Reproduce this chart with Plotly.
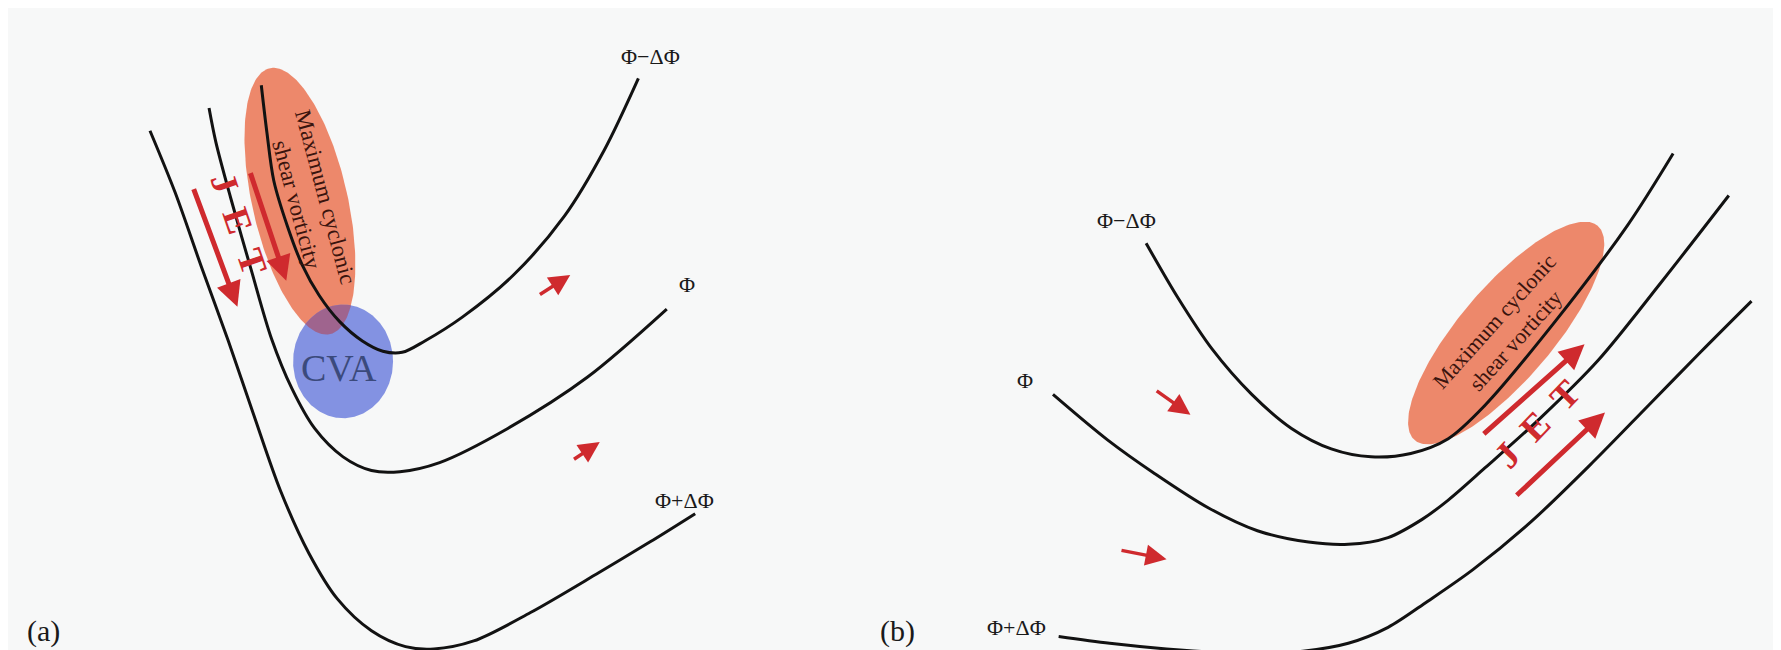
import numpy as np
import plotly.graph_objects as go

# Drawing units follow the reference picture (1568 x 572, y grows downward)
X_RANGE = [0, 1568]
Y_RANGE = [572, 0]

# ---------------- Panel (a): contours ----------------
a_minus_x = [223, 228, 234, 246, 259, 274, 292, 312, 330, 347, 367, 400, 445, 490, 525, 555]
a_minus_y = [68, 110, 152, 192, 226, 253, 276, 293, 302, 303, 293, 272, 235, 183, 125, 62]
a_mid_x = [177, 183, 196, 214, 232, 250, 270, 295, 320, 345, 380, 440, 510, 580]
a_mid_y = [88, 118, 167, 230, 291, 335, 370, 395, 407, 408, 400, 370, 325, 265]
a_plus_x = [125, 147, 170, 194, 216, 240, 265, 290, 320, 350, 375, 410, 460, 520, 565, 605]
a_plus_y = [108, 162, 227, 293, 357, 425, 480, 520, 548, 562, 564, 557, 532, 497, 470, 445]

# ---------------- Panel (b): contours ----------------
b_minus_x = [1002, 1030, 1060, 1095, 1130, 1165, 1200, 1235, 1268, 1300, 1362, 1426, 1466]
b_minus_y = [207, 255, 300, 340, 370, 388, 395, 392, 379, 350, 276, 191, 128]
b_mid_x = [920, 968, 1010, 1057, 1100, 1145, 1180, 1215, 1245, 1268, 1300, 1350, 1400, 1455, 1515]
b_mid_y = [340, 380, 410, 440, 460, 470, 472, 466, 450, 433, 405, 360, 310, 242, 165]
b_plus_x = [925, 970, 1020, 1065, 1100, 1140, 1180, 1215, 1250, 1290, 1341, 1395, 1444, 1490, 1535]
b_plus_y = [553, 559, 564, 567, 568, 566, 559, 545, 522, 494, 452, 400, 350, 303, 258]

contour_labels = ["\u03a6\u2212\u0394\u03a6", "\u03a6", "\u03a6+\u0394\u03a6",
                  "\u03a6\u2212\u0394\u03a6", "\u03a6", "\u03a6+\u0394\u03a6"]
label_x = [566, 598, 596, 985, 895, 888]
label_y = [43, 243, 433, 187, 328, 545]

# Shaded regions: centre x, centre y, semi-axis 1, semi-axis 2, angle (deg)
vort_cx = [257, 1319]
vort_cy = [170, 286]
vort_a = [120, 124]
vort_b = [42, 41]
vort_ang = [77.2, -49.5]
vort_text_x = [267, 1318]
vort_text_y = [170, 284]
vort_text_ang = [75, -48]
vort_text_size = [23, 22]
vort_text = "Maximum cyclonic<br>shear vorticity"

cva_cx, cva_cy, cva_rx, cva_ry = 295, 311, 44, 50

# JET arrows (tail -> tip)
jet_tail_x = [163, 213, 1298, 1327]
jet_tail_y = [158, 144, 376, 430]
jet_tip_x = [202, 245, 1388, 1406]
jet_tip_y = [263, 240, 296, 356]
jet_text_x = [203, 1347]
jet_text_y = [190, 366]
jet_text_ang = [71, -46]

# Small flow arrows (tail -> tip)
flow_tail_x = [467, 497, 1010, 979]
flow_tail_y = [253, 398, 336, 477]
flow_tip_x = [495, 521, 1041, 1020]
flow_tip_y = [235, 382, 358, 485]

panel_labels = ["(a)", "(b)"]
panel_x = [31, 783]
panel_y = [548, 548]

SERIF = "Liberation Serif, DejaVu Serif, serif"
RED = "#cf2a2e"


def ellipse_pts(cx, cy, a, b, ang_deg, n=240):
    t = np.linspace(0, 2 * np.pi, n)
    th = np.radians(ang_deg)
    x = cx + a * np.cos(t) * np.cos(th) - b * np.sin(t) * np.sin(th)
    y = cy + a * np.cos(t) * np.sin(th) + b * np.sin(t) * np.cos(th)
    return x, y


def inside(x, y, cx, cy, a, b, ang_deg):
    th = np.radians(ang_deg)
    dx, dy = x - cx, y - cy
    u = dx * np.cos(th) + dy * np.sin(th)
    v = -dx * np.sin(th) + dy * np.cos(th)
    return (u / a) ** 2 + (v / b) ** 2 <= 1.0


fig = go.Figure()

# vorticity ellipses
for i in range(2):
    ex, ey = ellipse_pts(vort_cx[i], vort_cy[i], vort_a[i], vort_b[i], vort_ang[i])
    fig.add_trace(go.Scatter(x=ex, y=ey, mode="lines", fill="toself",
                             fillcolor="rgba(236,126,94,0.92)", line=dict(width=0),
                             hoverinfo="skip", showlegend=False))

# CVA circle
cx_, cy_ = ellipse_pts(cva_cx, cva_cy, cva_rx, cva_ry, 0)
fig.add_trace(go.Scatter(x=cx_, y=cy_, mode="lines", fill="toself",
                         fillcolor="rgba(122,138,224,0.93)", line=dict(width=0),
                         hoverinfo="skip", showlegend=False))

# overlap region (ellipse a  ∩ circle)
ex, ey = ellipse_pts(vort_cx[0], vort_cy[0], vort_a[0], vort_b[0], vort_ang[0], 720)
cx2, cy2 = ellipse_pts(cva_cx, cva_cy, cva_rx, cva_ry, 0, 720)
m1 = inside(ex, ey, cva_cx, cva_cy, cva_rx, cva_ry, 0)
m2 = inside(cx2, cy2, vort_cx[0], vort_cy[0], vort_a[0], vort_b[0], vort_ang[0])
px = np.concatenate([ex[m1], cx2[m2]])
py = np.concatenate([ey[m1], cy2[m2]])
if len(px) > 2:
    order = np.argsort(np.arctan2(py - py.mean(), px - px.mean()))
    px, py = px[order], py[order]
    fig.add_trace(go.Scatter(x=np.append(px, px[0]), y=np.append(py, py[0]), mode="lines",
                             fill="toself", fillcolor="rgba(160,98,138,0.95)",
                             line=dict(width=0), hoverinfo="skip", showlegend=False))

# contour lines
for xs, ys in [(a_minus_x, a_minus_y), (a_mid_x, a_mid_y), (a_plus_x, a_plus_y),
               (b_minus_x, b_minus_y), (b_mid_x, b_mid_y), (b_plus_x, b_plus_y)]:
    fig.add_trace(go.Scatter(x=xs, y=ys, mode="lines",
                             line=dict(color="#121212", width=3.0, shape="spline", smoothing=0.9),
                             hoverinfo="skip", showlegend=False))

ann = []
for t, x, y in zip(contour_labels, label_x, label_y):
    ann.append(dict(x=x, y=y, text=t, showarrow=False,
                    font=dict(family=SERIF, size=22, color="#1a1a1a")))

for i in range(2):
    ann.append(dict(x=vort_text_x[i], y=vort_text_y[i], text=vort_text, showarrow=False,
                    textangle=vort_text_ang[i],
                    font=dict(family=SERIF, size=vort_text_size[i], color="#3a140e")))

ann.append(dict(x=291, y=317, text="CVA", showarrow=False,
                font=dict(family=SERIF, size=38, color="#3b4a7c")))

for i in range(2):
    ann.append(dict(x=jet_text_x[i], y=jet_text_y[i], text="<b>J\u2002E\u2002T</b>",
                    showarrow=False, textangle=jet_text_ang[i],
                    font=dict(family=SERIF, size=37, color=RED)))

for i in range(4):
    ann.append(dict(x=jet_tip_x[i], y=jet_tip_y[i], ax=jet_tail_x[i], ay=jet_tail_y[i],
                    xref="x", yref="y", axref="x", ayref="y", text="", showarrow=True,
                    arrowhead=2, arrowsize=1.0, arrowwidth=5, arrowcolor=RED))

for i in range(4):
    ann.append(dict(x=flow_tip_x[i], y=flow_tip_y[i], ax=flow_tail_x[i], ay=flow_tail_y[i],
                    xref="x", yref="y", axref="x", ayref="y", text="", showarrow=True,
                    arrowhead=2, arrowsize=1.2, arrowwidth=3.5, arrowcolor=RED))

for t, x, y in zip(panel_labels, panel_x, panel_y):
    ann.append(dict(x=x, y=y, text=t, showarrow=False,
                    font=dict(family=SERIF, size=30, color="#1a1a1a")))

fig.update_layout(
    width=1781, height=650,
    margin=dict(l=0, r=0, t=0, b=0),
    paper_bgcolor="#f7f8f8", plot_bgcolor="#f7f8f8",
    xaxis=dict(range=X_RANGE, visible=False, fixedrange=True),
    yaxis=dict(range=Y_RANGE, visible=False, fixedrange=True),
    annotations=ann,
    showlegend=False,
)

fig.write_html("out.html")
